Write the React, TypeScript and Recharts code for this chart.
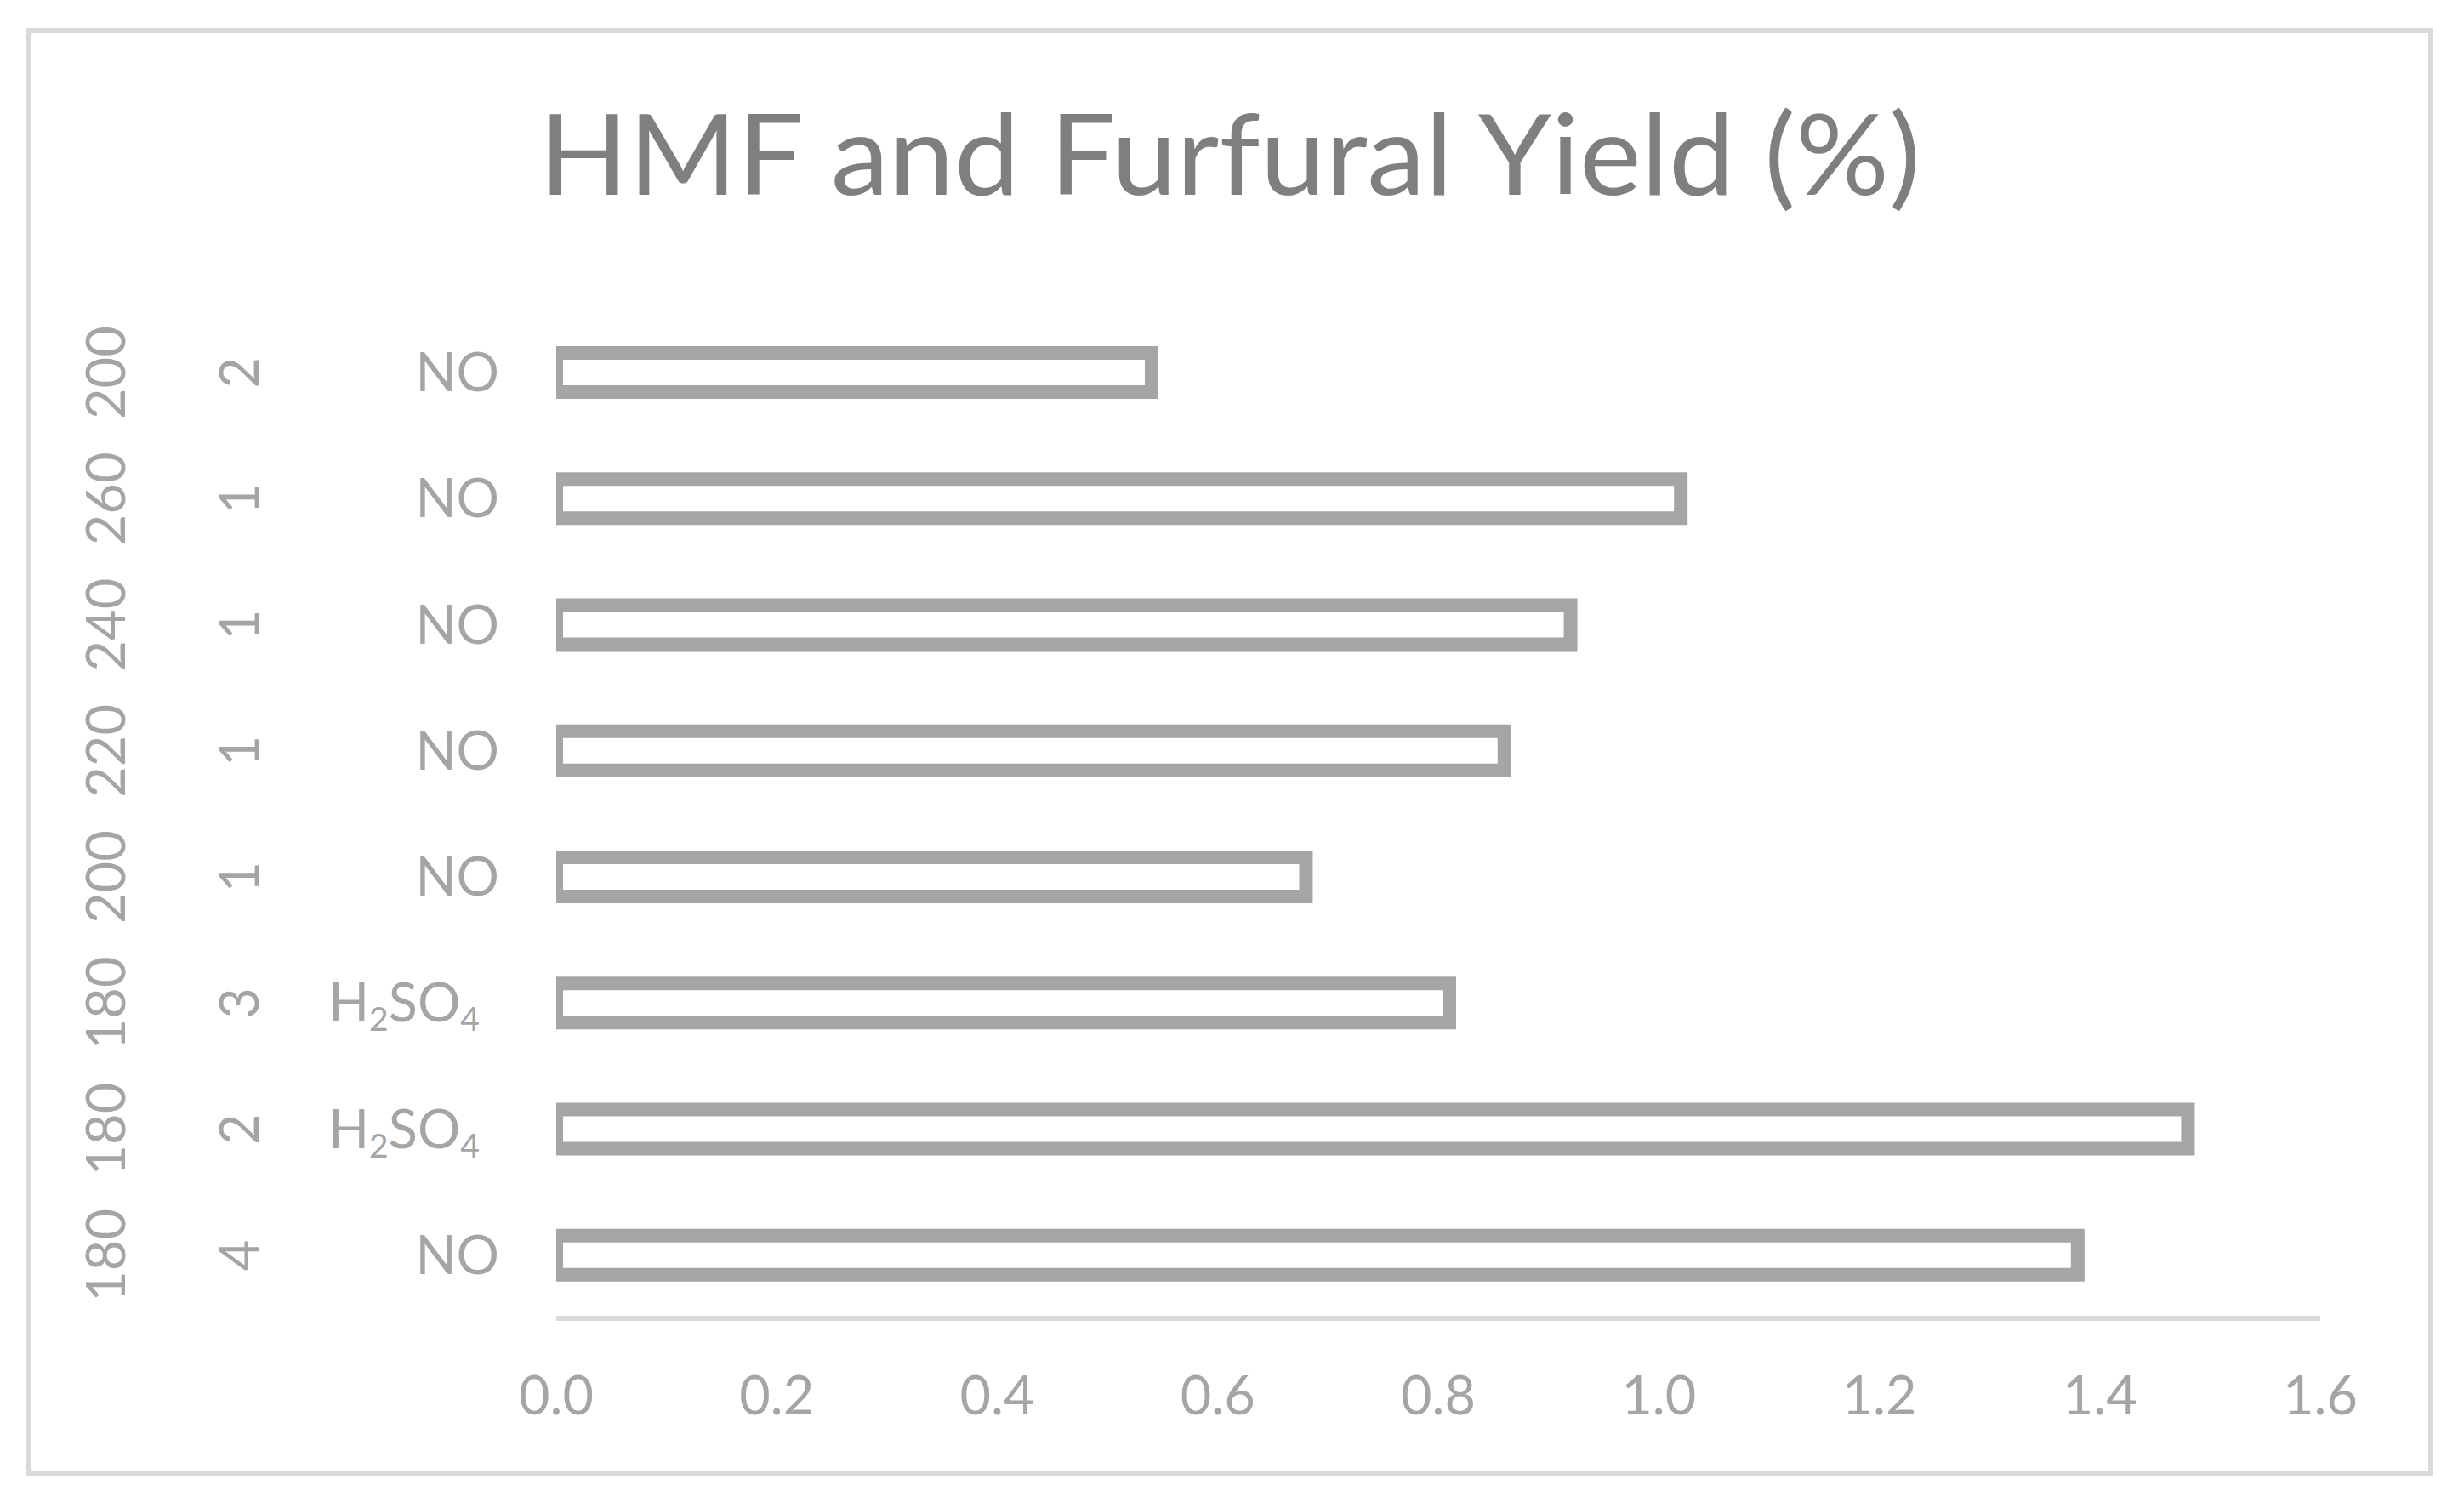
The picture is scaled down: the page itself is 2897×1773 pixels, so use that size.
import React from 'react';
import { BarChart, Bar, XAxis, YAxis } from 'recharts';

// three-level category labels, top row first
const temperatures = ['200', '260', '240', '220', '200', '180', '180', '180'];
const times = ['2', '1', '1', '1', '1', '3', '2', '4'];
const acids = ['NO', 'NO', 'NO', 'NO', 'NO', 'H2SO4', 'H2SO4', 'NO'];
const yields = [0.54, 1.02, 0.92, 0.86, 0.68, 0.81, 1.48, 1.38];
const xTicks = [0, 0.2, 0.4, 0.6, 0.8, 1.0, 1.2, 1.4, 1.6];

const data = yields.map((v, i) => ({ id: String(i), value: v }));

const W = 2897;
const H = 1773;
const PLOT_LEFT = 654;
const PLOT_TOP = 364;
const PLOT_BOTTOM = 1550;
const PLOT_RIGHT = 2728;
const X_AXIS_H = 100;

const GRAY = '#a5a5a5';
const LINE = '#d9d9d9';
const FONT = 'Lato, "Open Sans", sans-serif';
const FS = 63;
const STROKE = 16;

const OutlineBar = (props: any) => {
  const { x, y, width, height } = props;
  if (width == null || height == null) return null;
  const h = STROKE / 2;
  const ox0 = x, ox1 = x + width + h, oy0 = y - h, oy1 = y + height + h;
  const ix0 = x + h, ix1 = x + width - h, iy0 = y + h, iy1 = y + height - h;
  const d =
    `M${ox0},${oy0}H${ox1}V${oy1}H${ox0}Z` +
    `M${ix0},${iy0}V${iy1}H${ix1}V${iy0}Z`;
  return <path d={d} fill={GRAY} fillRule="evenodd" />;
};

const AcidLabel = ({ text, y }: { text: string; y: number }) => {
  if (text === 'H2SO4') {
    return (
      <text x={564} y={y + 22} textAnchor="end" fill={GRAY} fontSize={FS} fontFamily={FONT}>
        H<tspan fontSize={FS * 0.62} dy={11}>2</tspan>
        <tspan dy={-11}>SO</tspan>
        <tspan fontSize={FS * 0.62} dy={11}>4</tspan>
      </text>
    );
  }
  return (
    <text x={587} y={y + 22} textAnchor="end" fill={GRAY} fontSize={FS} fontFamily={FONT}>
      {text}
    </text>
  );
};

const CategoryTick = (props: any) => {
  const { y, payload } = props;
  const i = Number(payload.value);
  return (
    <g>
      <text
        transform={`translate(124, ${y}) rotate(-90)`}
        y={23}
        textAnchor="middle"
        fill={GRAY}
        fontSize={FS}
        fontFamily={FONT}
      >
        {temperatures[i]}
      </text>
      <text
        transform={`translate(281, ${y}) rotate(-90)`}
        y={23}
        textAnchor="middle"
        fill={GRAY}
        fontSize={FS}
        fontFamily={FONT}
      >
        {times[i]}
      </text>
      <AcidLabel text={acids[i]} y={y} />
    </g>
  );
};

const ValueTick = (props: any) => {
  const { x, payload } = props;
  return (
    <text x={x} y={PLOT_BOTTOM + 113} textAnchor="middle" fill={GRAY} fontSize={FS} fontFamily={FONT}>
      {Number(payload.value).toFixed(1)}
    </text>
  );
};

export default function App() {
  return (
    <div style={{ position: 'absolute', left: 0, top: 0, width: W, height: H, background: '#fff' }}>
      <div
        style={{
          position: 'absolute',
          left: 30,
          top: 33,
          width: 2831,
          height: 1702,
          boxSizing: 'border-box',
          border: `6px solid ${LINE}`,
        }}
      />
      <svg width={W} height={300} style={{ position: 'absolute', left: 0, top: 0 }}>
        <text
          x={1446}
          y={229}
          textAnchor="middle"
          fill="#7f7f7f"
          fontSize={132}
          fontWeight={400}
          fontFamily={FONT}
          textLength={1624}
          lengthAdjust="spacingAndGlyphs"
        >
          HMF and Furfural Yield (%)
        </text>
      </svg>
      <div style={{ position: 'absolute', left: 0, top: 0 }}>
        <BarChart
          width={W}
          height={H}
          data={data}
          layout="vertical"
          margin={{ top: PLOT_TOP, right: W - PLOT_RIGHT, bottom: H - PLOT_BOTTOM - X_AXIS_H, left: 0 }}
        >
          <XAxis
            type="number"
            domain={[0, 1.6]}
            ticks={xTicks}
            height={X_AXIS_H}
            axisLine={{ stroke: LINE, strokeWidth: 6 }}
            tickLine={false}
            tick={<ValueTick />}
            interval={0}
          />
          <YAxis
            type="category"
            dataKey="id"
            width={PLOT_LEFT}
            axisLine={false}
            tickLine={false}
            tick={<CategoryTick />}
            interval={0}
          />
          <Bar dataKey="value" barSize={46} shape={<OutlineBar />} isAnimationActive={false} />
        </BarChart>
      </div>
    </div>
  );
}
